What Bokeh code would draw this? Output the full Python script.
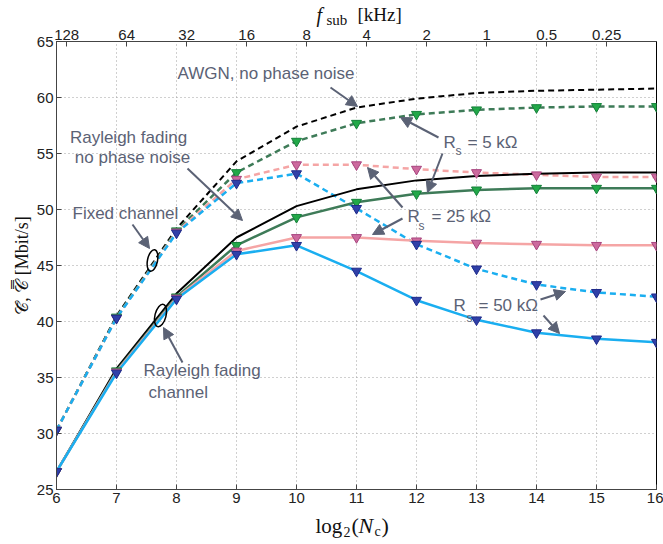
from bokeh.plotting import figure
from bokeh.models import (LinearAxis, FixedTicker, Label, Arrow, NormalHead,
                          Range1d, CustomJSTickFormatter)
from bokeh.core.properties import value
from bokeh.embed import file_html
from bokeh.resources import INLINE

# ---------------- data ----------------
log2_nc = [6, 7, 8, 9, 10, 11, 12, 13, 14, 15, 16]

# Fixed channel (dashed)
fixed_awgn = [30.3, 40.5, 48.3, 54.3, 57.4, 59.1, 59.9, 60.4, 60.6, 60.7, 60.8]
fixed_5k = [30.3, 40.4, 48.1, 53.3, 56.1, 57.7, 58.5, 58.9, 59.1, 59.2, 59.2]
fixed_25k = [30.3, 40.3, 48.0, 52.7, 54.0, 54.0, 53.6, 53.3, 53.1, 52.9, 52.9]
fixed_50k = [30.3, 40.3, 47.9, 52.35, 53.2, 50.1, 46.9, 44.7, 43.3, 42.6, 42.2]

# Rayleigh fading channel (solid)
rayl_awgn = [26.6, 35.8, 42.5, 47.5, 50.3, 51.8, 52.6, 53.0, 53.2, 53.3, 53.3]
rayl_5k = [26.6, 35.6, 42.2, 46.8, 49.3, 50.65, 51.4, 51.75, 51.9, 51.9, 51.9]
rayl_25k = [26.6, 35.5, 42.1, 46.3, 47.5, 47.5, 47.2, 47.0, 46.9, 46.8, 46.8]
rayl_50k = [26.6, 35.4, 42.0, 46.0, 46.8, 44.5, 41.9, 40.15, 39.0, 38.45, 38.15]

x_ticks = [6, 7, 8, 9, 10, 11, 12, 13, 14, 15, 16]
y_ticks = [25, 30, 35, 40, 45, 50, 55, 60, 65]
top_tick_pos = [6.17, 7.17, 8.17, 9.17, 10.17, 11.17, 12.17, 13.17, 14.17, 15.17]
top_tick_labels = ["128", "64", "32", "16", "8", "4", "2", "1", "0.5", "0.25"]

# ---------------- styles ----------------
GREEN_L, GREEN_M, GREEN_E = "#3e7b58", "#22a848", "#14803a"
PINK_L, PINK_M, PINK_E = "#f5a5a5", "#cc6a9e", "#a8447e"
BLUE_L, BLUE_M, BLUE_E = "#1aaef0", "#3040a8", "#1e2a8a"
ANN = "#5b6275"
SANS = "Liberation Sans"
SERIF = "Liberation Serif"

# frame geometry in pixels (for placing annotations)
FL, FR, FT, FB = 56, 656, 41, 489
W, H = 663, 544


def px2x(px):
    return 6 + (px - FL) * 10.0 / (FR - FL)


def py2y(py):
    return 25 + (FB - py) * 40.0 / (FB - FT)


p = figure(width=W, height=H, x_range=Range1d(6, 16), y_range=Range1d(25, 65),
           output_backend="svg", toolbar_location=None,
           min_border_left=FL, min_border_right=W - FR,
           min_border_top=FT, min_border_bottom=H - FB)
p.background_fill_color = "white"
p.border_fill_color = "white"
p.outline_line_color = "black"
p.outline_line_width = 1

for ax in (p.xaxis[0], p.yaxis[0]):
    ax.major_tick_in = 5
    ax.major_tick_out = 0
    ax.minor_tick_line_color = None
    ax.axis_line_color = "#444444"
    ax.major_tick_line_color = "#444444"
    ax.major_label_text_font = SANS
    ax.major_label_text_font_size = "15px"
    ax.major_label_text_color = "#222222"
    ax.major_label_standoff = 3
p.xaxis[0].ticker = FixedTicker(ticks=x_ticks)
p.yaxis[0].ticker = FixedTicker(ticks=y_ticks)

p.xgrid.ticker = FixedTicker(ticks=x_ticks)
p.ygrid.ticker = FixedTicker(ticks=y_ticks)
for g in (p.xgrid[0], p.ygrid[0]):
    g.grid_line_color = "#a0a0a0"
    g.grid_line_dash = "1 3"
    g.grid_line_width = 1

# top axis (f_sub)
fmt_code = "const pos = %s; const lab = %s; for (let i = 0; i < pos.length; i++) { if (Math.abs(pos[i] - tick) < 1e-6) return lab[i]; } return '';" % (
    str(top_tick_pos), str(top_tick_labels).replace("'", '"'))
top = LinearAxis(ticker=FixedTicker(ticks=top_tick_pos),
                 formatter=CustomJSTickFormatter(code=fmt_code),
                 major_tick_in=5, major_tick_out=0, minor_tick_line_color=None,
                 axis_line_color="#444444", major_tick_line_color="#444444",
                 major_label_text_font=SANS, major_label_text_font_size="15px",
                 major_label_text_color="#222222", major_label_standoff=2)
p.add_layout(top, "above")

# ---------------- lines ----------------
DASH = "6 4"
p.line(log2_nc, fixed_awgn, line_color="black", line_width=2, line_dash=DASH)
p.line(log2_nc, fixed_5k, line_color=GREEN_L, line_width=2.5, line_dash=DASH)
p.line(log2_nc, fixed_25k, line_color=PINK_L, line_width=2.5, line_dash=DASH)
p.line(log2_nc, fixed_50k, line_color=BLUE_L, line_width=2.5, line_dash=DASH)

p.line(log2_nc, rayl_awgn, line_color="black", line_width=2)
p.line(log2_nc, rayl_5k, line_color=GREEN_L, line_width=2.5)
p.line(log2_nc, rayl_25k, line_color=PINK_L, line_width=2.5)
p.line(log2_nc, rayl_50k, line_color=BLUE_L, line_width=2.5)

for ys, fc, ec in ((fixed_5k, GREEN_M, GREEN_E), (rayl_5k, GREEN_M, GREEN_E),
                   (fixed_25k, PINK_M, PINK_E), (rayl_25k, PINK_M, PINK_E),
                   (fixed_50k, BLUE_M, BLUE_E), (rayl_50k, BLUE_M, BLUE_E)):
    p.scatter(log2_nc, ys, marker="inverted_triangle", size=10,
              fill_color=fc, line_color=ec, line_width=1)

# ellipses marking the two channel groups
p.ellipse(x=[px2x(152), px2x(160)], y=[py2y(260), py2y(315)],
          width=[10, 11], height=[22, 23], width_units="screen", height_units="screen",
          angle=[-0.2, -0.25], fill_color=None, line_color="black", line_width=1.5)

# ---------------- annotations ----------------


def text(px, py, s, size="17px", align="left", color=ANN, font=SANS, style="normal"):
    p.add_layout(Label(x=px2x(px), y=py2y(py), text=s, text_font=font,
                       text_font_size=size, text_color=color, text_align=align,
                       text_baseline="middle", text_font_style=style))


def outer_text(px, py, s, size, style="normal", angle=0.0, align="left"):
    # text outside the frame: an overlay-level text glyph is not clipped
    p.text(x=[px2x(px)], y=[py2y(py)], text=[s], angle=angle,
           text_font=value(SERIF), text_font_size=value(size),
           text_font_style=style, text_color="#111111",
           text_align=align, text_baseline="middle", level="overlay")


def arrow(x0, y0, x1, y1):
    p.add_layout(Arrow(end=NormalHead(size=11, fill_color=ANN, line_color=ANN, line_width=1),
                       x_start=px2x(x0), y_start=py2y(y0), x_end=px2x(x1), y_end=py2y(y1),
                       line_color=ANN, line_width=2))


text(177, 73, "AWGN, no phase noise")
arrow(330, 87, 357, 106)

text(128, 137, "Rayleigh fading", align="center")
text(132, 157, "no phase noise", align="center")
arrow(187, 168, 242, 220)

text(72, 213, "Fixed channel")
arrow(132, 224, 149, 248)

text(143, 370, "Rayleigh fading")
text(148, 392, "channel")
arrow(182, 362, 163, 327)

for (rx, ry, sx, sy, ex, s) in ((443, 142, 455, 150, 467, "= 5 k\u03a9"),
                                (407, 216, 418, 225, 431, "= 25 k\u03a9"),
                                (453, 305, 466, 317, 478, "= 50 k\u03a9")):
    text(rx, ry, "R", size="17px")
    text(sx, sy, "s", size="12px")
    text(ex, ry, s, size="17px")

arrow(438, 137, 400, 117)
arrow(442, 153, 427, 192)
arrow(402, 207, 367, 167)
arrow(402, 218, 372, 234)
arrow(540, 299, 565, 291)
arrow(543, 315, 559, 333)

# axis titles (serif, math-like)
outer_text(21, 265, "\U0001D49E\u0304, \U0001D49E\u033F [Mbit/s]", "18px",
           angle=1.5707963, align="center")
# bottom: log2(Nc)
outer_text(315, 525, "log", "21px")
outer_text(343, 531, "2", "14px")
outer_text(351, 525, "(", "22px")
outer_text(358, 525, "N", "22px", style="italic")
outer_text(374, 531, "c", "14px")
outer_text(381, 525, ")", "22px")
# top: f_sub [kHz]
outer_text(316, 14, "f", "20px", style="italic")
outer_text(326, 19, "sub", "15px")
outer_text(357, 14, "[kHz]", "19px")

open("out.html", "w").write(file_html(p, INLINE))
